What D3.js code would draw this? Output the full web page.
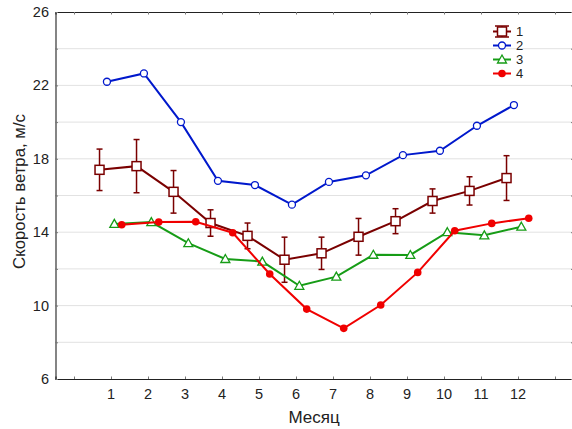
<!DOCTYPE html>
<html>
<head>
<meta charset="utf-8">
<script src="https://cdn.jsdelivr.net/npm/d3@7/dist/d3.min.js"></script>
<style>
  html, body { margin: 0; padding: 0; background: #fff; }
  svg { display: block; font-family: "Liberation Sans", Arial, sans-serif; }
</style>
</head>
<body>
<svg id="chart" width="572" height="429"></svg>
<script>
// Months on the x axis
const months = [1, 2, 3, 4, 5, 6, 7, 8, 9, 10, 11, 12];
const xTickLabels = ["1", "2", "3", "4", "5", "6", "7", "8", "9", "10", "11", "12"];
const yTickLabels = [6, 10, 14, 18, 22, 26];

// Wind speed, m/s, per series
const series1 = [17.4, 17.6, 16.2, 14.5, 13.8, 12.5, 12.85, 13.75, 14.6, 15.7, 16.25, 16.95];
const series1Err = [1.13, 1.45, 1.16, 0.72, 0.7, 1.23, 0.88, 1.0, 0.68, 0.66, 0.77, 1.22];
const series2 = [22.2, 22.65, 20.0, 16.8, 16.57, 15.5, 16.74, 17.1, 18.2, 18.44, 19.8, 20.93];
const series3 = [14.45, 14.55, 13.4, 12.54, 12.4, 11.08, 11.58, 12.77, 12.76, 14.0, 13.83, 14.3];
const series4 = [14.41, 14.55, 14.57, 13.97, 11.72, 9.81, 8.76, 10.03, 11.81, 14.08, 14.48, 14.76];
const seriesNames = ["1", "2", "3", "4"];

const svg = d3.select("#chart");
const plotLeft = 55.5, plotTop = 12, plotBottom = 379, plotRight = 573.5;

const x = d3.scaleLinear().domain([-0.5, 13.5]).range([plotLeft, plotRight]);
const y = d3.scaleLinear().domain([6, 26]).range([plotBottom, plotTop]);

// Dotted horizontal grid
const gridVals = d3.range(8, 26, 2);
svg.append("g").selectAll("line").data(gridVals).join("line")
  .attr("x1", plotLeft).attr("x2", plotRight)
  .attr("y1", d => y(d)).attr("y2", d => y(d))
  .attr("stroke", "#c4c4c4").attr("stroke-width", 1)
  .attr("stroke-dasharray", "1,1");

// Frame axes with short inward ticks
const xTicks = d3.range(0, 14);
const yTicks = d3.range(6, 27, 2);
const axisColor = "#222";

const gB = svg.append("g").attr("transform", `translate(0,${plotBottom})`)
  .call(d3.axisBottom(x).tickValues(xTicks).tickSize(-2.5).tickFormat(() => ""));
const gT = svg.append("g").attr("transform", `translate(0,${plotTop})`)
  .call(d3.axisTop(x).tickValues(xTicks).tickSize(-2.5).tickFormat(() => ""));
const gL = svg.append("g").attr("transform", `translate(${plotLeft},0)`)
  .call(d3.axisLeft(y).tickValues(yTicks).tickSize(-2.5).tickFormat(() => ""));
const gR = svg.append("g").attr("transform", `translate(${plotRight},0)`)
  .call(d3.axisRight(y).tickValues(yTicks).tickSize(-2.5).tickFormat(() => ""));
[gB, gT, gL, gR].forEach(g => {
  g.select(".domain").attr("stroke", axisColor).attr("stroke-width", 1.1);
  g.selectAll(".tick line").attr("stroke", "#777");
});

// Tick labels
svg.append("g").selectAll("text").data(months).join("text")
  .attr("x", d => x(d)).attr("y", 399)
  .attr("text-anchor", "middle").attr("font-size", 14.5).attr("fill", "#222")
  .text((d, i) => xTickLabels[i]);
svg.append("g").selectAll("text").data(yTickLabels).join("text")
  .attr("x", 49).attr("y", d => y(d) + 5)
  .attr("text-anchor", "end").attr("font-size", 14.5).attr("fill", "#222")
  .text(d => d);

// Axis titles
svg.append("text").attr("x", 314).attr("y", 423)
  .attr("text-anchor", "middle").attr("font-size", 17).attr("fill", "#222")
  .text("Месяц");
svg.append("text")
  .attr("transform", `translate(25,191.5) rotate(-90)`)
  .attr("text-anchor", "middle").attr("font-size", 16.8).attr("fill", "#222")
  .text("Скорость ветра, м/с");

// Series styling; each series is drawn slightly shifted along x
const specs = [
  { values: series1, color: "#7a0000", shift: -0.31, marker: "square" },
  { values: series2, color: "#0018cc", shift: -0.11, marker: "circle" },
  { values: series3, color: "#169c16", shift: 0.09, marker: "triangle" },
  { values: series4, color: "#f00000", shift: 0.29, marker: "dot" }
];

const line = d3.line().x(d => x(d.m)).y(d => y(d.v));

function drawMarkers(g, coords, s) {
  coords.forEach(([cx, cy]) => {
    if (s.marker === "square") {
      g.append("rect").attr("x", cx - 4.5).attr("y", cy - 4.5)
        .attr("width", 9).attr("height", 9)
        .attr("fill", "#fff").attr("stroke", s.color).attr("stroke-width", 1.5);
    } else if (s.marker === "circle") {
      g.append("circle").attr("cx", cx).attr("cy", cy).attr("r", 3.5)
        .attr("fill", "#fff").attr("stroke", s.color).attr("stroke-width", 1.3);
    } else if (s.marker === "triangle") {
      g.append("path")
        .attr("d", `M${cx},${cy - 4.5}L${cx + 4.5},${cy + 3.5}L${cx - 4.5},${cy + 3.5}Z`)
        .attr("fill", "#fff").attr("stroke", s.color).attr("stroke-width", 1.3);
    } else {
      g.append("circle").attr("cx", cx).attr("cy", cy).attr("r", 3.8)
        .attr("fill", s.color);
    }
  });
}

specs.forEach((s, si) => {
  const pts = months.map((m, i) => ({ m: m + s.shift, v: s.values[i], i }));
  const g = svg.append("g");
  if (si === 0) {
    // error bars
    const eb = g.append("g");
    pts.forEach(p => {
      const e = series1Err[p.i];
      const cx = x(p.m);
      eb.append("line").attr("x1", cx).attr("x2", cx)
        .attr("y1", y(p.v + e)).attr("y2", y(p.v - e))
        .attr("stroke", s.color).attr("stroke-width", 1.5);
      [p.v + e, p.v - e].forEach(v => {
        eb.append("line").attr("x1", cx - 3).attr("x2", cx + 3)
          .attr("y1", y(v)).attr("y2", y(v))
          .attr("stroke", s.color).attr("stroke-width", 1.5);
      });
    });
  }
  g.append("path").datum(pts).attr("d", line)
    .attr("fill", "none").attr("stroke", s.color).attr("stroke-width", 2);
  drawMarkers(g, pts.map(p => [x(p.m), y(p.v)]), s);
});

// Legend
const legend = svg.append("g");
specs.forEach((s, i) => {
  const ly = 31.5 + i * 14;
  const lx0 = 493, lx1 = 511, lc = (lx0 + lx1) / 2;
  if (i === 0) {
    legend.append("line").attr("x1", lx0 + 2).attr("x2", lx1 - 2)
      .attr("y1", ly - 5.5).attr("y2", ly - 5.5).attr("stroke", s.color).attr("stroke-width", 1.5);
    legend.append("line").attr("x1", lx0 + 2).attr("x2", lx1 - 2)
      .attr("y1", ly + 5.5).attr("y2", ly + 5.5).attr("stroke", s.color).attr("stroke-width", 1.5);
    legend.append("line").attr("x1", lc).attr("x2", lc)
      .attr("y1", ly - 5.5).attr("y2", ly + 5.5).attr("stroke", s.color).attr("stroke-width", 1.5);
  }
  legend.append("line").attr("x1", lx0).attr("x2", lx1)
    .attr("y1", ly).attr("y2", ly).attr("stroke", s.color).attr("stroke-width", 2);
  drawMarkers(legend, [[lc, ly]], s);
  legend.append("text").attr("x", 516).attr("y", ly + 4.5)
    .attr("font-size", 13).attr("fill", "#222").text(seriesNames[i]);
});
</script>
</body>
</html>
